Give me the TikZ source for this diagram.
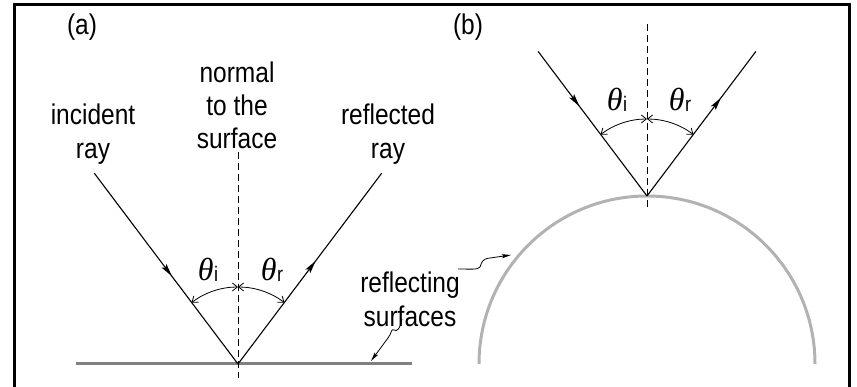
\documentclass[tikz,border=0pt]{standalone}
\usepackage{fontspec}
\setmainfont[FakeStretch=0.86]{Liberation Sans}
\newfontfamily\thetafont{Liberation Serif}
\usetikzlibrary{arrows.meta,decorations.markings}
\tikzset{
  lbl/.style={font=\fontsize{28.5}{34}\selectfont, inner sep=0pt, anchor=base},
  thlbl/.style={font=\fontsize{32}{32}\selectfont, inner sep=0pt},
  ray/.style={line width=1.1pt},
  normalline/.style={line width=0.9pt, dash pattern=on 7pt off 4pt},
  anglearc/.style={line width=0.8pt, {Straight Barb[length=5pt,width=8pt]}-{Straight Barb[length=5pt,width=8pt]}},
  midarrow/.style={postaction={decorate, decoration={markings, mark=at position #1 with {\arrow{Stealth[length=13pt,width=6pt,inset=2.5pt]}}}}},
  squiggle/.style={line width=0.8pt, -{Stealth[length=9pt,width=4pt,inset=1.5pt]}},
  frameline/.style={line width=3pt}
}
\newcommand{\thsub}[1]{{\thetafont\itshape θ}\kern0.5pt\raisebox{-1.5pt}{\fontsize{21}{21}\selectfont #1}}
\begin{document}
\begin{tikzpicture}[x=1pt,y=1pt]
\useasboundingbox (0,0) rectangle (857,387);
% frame
\draw[frameline] (14,-5) -- (14,382) -- (849,382) -- (849,-5);

% ---------- panel (a) ----------
\coordinate (P) at (238,23);
\coordinate (A) at (94.2,213.9);
\coordinate (R) at (381.8,213.9);
\coordinate (Ntop) at (238,235);
\coordinate (Nbot) at (238,9);
\coordinate (GL) at (76,23);
\coordinate (GR) at (412,23);
\draw[line width=3pt, color=black!50] (GL) -- (GR);
\draw[normalline] (Ntop) -- (Nbot);
\draw[ray, midarrow=0.54] (A) -- (P);
\draw[ray, midarrow=0.54] (P) -- (R);
\draw[anglearc] ([shift={(127:77)}]P) arc[start angle=127, end angle=90, radius=77];
\draw[anglearc] ([shift={(90:77)}]P) arc[start angle=90, end angle=53, radius=77];
\node[thlbl] (tia) at (208,117) {\thsub{i}};
\node[thlbl] (tra) at (272,117) {\thsub{r}};

\node[lbl] (la) at (82,352) {(a)};
\node[lbl] (n1) at (237,304) {normal};
\node[lbl] (n2) at (237,271) {to the};
\node[lbl] (n3) at (237,238) {surface};
\node[lbl] (i1) at (93,262) {incident};
\node[lbl] (i2) at (93,228) {ray};
\node[lbl] (r1) at (388,262) {reflected};
\node[lbl] (r2) at (388,228) {ray};
\node[lbl] (s1) at (410,94) {reflecting};
\node[lbl] (s2) at (410,60) {surfaces};

% squiggle to flat surface
\coordinate (sqa1) at (402,68);
\coordinate (sqa2) at (371,26);
\draw[squiggle] (sqa1) .. controls (400,58) and (397,55) .. (394,57)
  .. controls (391,59) and (392,54) .. (388,49) -- (sqa2);

% ---------- panel (b) ----------
\coordinate (Q) at (647,191);
\coordinate (B) at (538.1,335.6);
\coordinate (S) at (755.9,335.6);
\coordinate (Mtop) at (647,363);
\coordinate (Mbot) at (647,177);
\draw[line width=3pt, color=black!30] (815,23) arc[start angle=0, end angle=180, radius=168];
\draw[normalline] (Mtop) -- (Mbot);
\draw[ray, midarrow=0.38] (B) -- (Q);
\draw[ray, midarrow=0.68] (Q) -- (S);
\draw[anglearc] ([shift={(127:77)}]Q) arc[start angle=127, end angle=90, radius=77];
\draw[anglearc] ([shift={(90:77)}]Q) arc[start angle=90, end angle=53, radius=77];
\node[thlbl] (tib) at (617,287) {\thsub{i}};
\node[thlbl] (trb) at (680,287) {\thsub{r}};
\node[lbl] (lb) at (468,352) {(b)};

% squiggle to curved surface
\coordinate (sqb1) at (458,118);
\coordinate (sqb2) at (511,132);
\draw[squiggle] (sqb1) .. controls (470,118) and (478,117) .. (480,120)
  .. controls (482,124) and (481,128) .. (490,129) -- (sqb2);
\end{tikzpicture}
\end{document}
